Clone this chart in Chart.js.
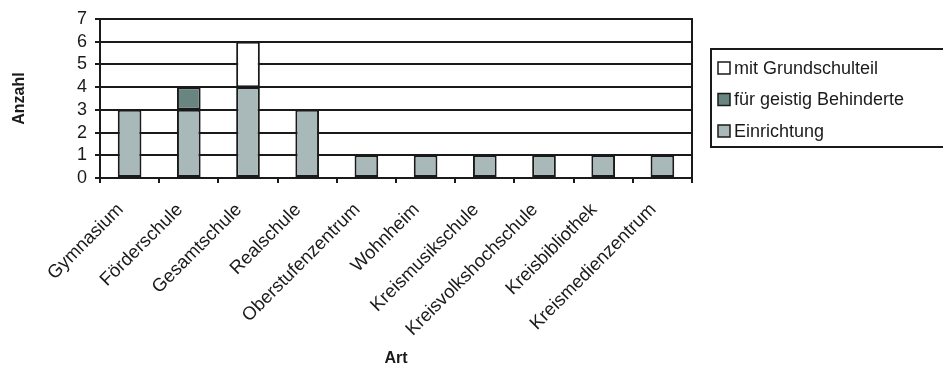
<!DOCTYPE html>
<html>
<head>
<meta charset="utf-8">
<script src="https://cdn.jsdelivr.net/npm/chart.js@4"></script>
<style>
  html, body { margin: 0; padding: 0; background: #fff; }
  #wrap { width: 943px; height: 372px; }
</style>
</head>
<body>
<div id="wrap"><canvas id="chart" width="943" height="372"></canvas></div>
<script>
const categories = ['Gymnasium', 'Förderschule', 'Gesamtschule', 'Realschule', 'Oberstufenzentrum',
    'Wohnheim', 'Kreismusikschule', 'Kreisvolkshochschule', 'Kreisbibliothek', 'Kreismedienzentrum'];
const einrichtung = [3, 3, 4, 3, 1, 1, 1, 1, 1, 1];
const geistigBehinderte = [0, 1, 0, 0, 0, 0, 0, 0, 0, 0];
const grundschulteil = [0, 0, 2, 0, 0, 0, 0, 0, 0, 0];
const yMax = 7;

const font = 'Arial, "Liberation Sans", sans-serif';
const ink = '#1a1a1a';

// frame around the plot area
const frame = {
    id: 'frame',
    afterDatasetsDraw(chart) {
        const a = chart.chartArea, ctx = chart.ctx;
        ctx.save();
        ctx.strokeStyle = ink;
        ctx.lineWidth = 2;
        ctx.strokeRect(a.left, a.top, a.right - a.left, a.bottom - a.top);
        ctx.restore();
    }
};

// legend box on the right, items listed top to bottom in reverse stacking order
const boxLegend = {
    id: 'boxLegend',
    afterDraw(chart) {
        const ctx = chart.ctx;
        const x = 711, y = 49, w = 250, h = 98;
        ctx.save();
        ctx.strokeStyle = ink;
        ctx.lineWidth = 2;
        ctx.strokeRect(x, y, w, h);
        ctx.font = '18px ' + font;
        ctx.textBaseline = 'middle';
        const ds = chart.data.datasets.slice().reverse();
        ds.forEach((d, i) => {
            const cy = y + 19 + i * 31.5;
            ctx.fillStyle = d.backgroundColor;
            ctx.fillRect(718, cy - 6, 12, 12);
            ctx.strokeStyle = ink;
            ctx.lineWidth = 1.5;
            ctx.strokeRect(718, cy - 6, 12, 12);
            ctx.fillStyle = ink;
            ctx.fillText(d.label, 734, cy + 1);
        });
        ctx.restore();
    }
};

new Chart(document.getElementById('chart'), {
    type: 'bar',
    data: {
        labels: categories,
        datasets: [
            { label: 'Einrichtung', data: einrichtung, backgroundColor: '#a9b8b8' },
            { label: 'für geistig Behinderte', data: geistigBehinderte, backgroundColor: '#68857f' },
            { label: 'mit Grundschulteil', data: grundschulteil, backgroundColor: '#ffffff' }
        ].map(d => Object.assign(d, {
            data: d.data.map(v => v || null),
            borderColor: ink,
            borderWidth: 2,
            borderSkipped: false,
            categoryPercentage: 1,
            barPercentage: 0.4
        }))
    },
    options: {
        responsive: false,
        animation: false,
        events: [],
        layout: { padding: { left: 0, top: 19, right: 251, bottom: 0 } },
        plugins: { legend: { display: false }, tooltip: { enabled: false } },
        scales: {
            x: {
                stacked: true,
                afterFit: s => { s.height = 194; },
                grid: { drawOnChartArea: false, color: ink, lineWidth: 2, tickLength: 5, tickColor: ink },
                border: { color: ink, width: 2 },
                ticks: { color: ink, font: { family: font, size: 18.5 }, minRotation: 45, maxRotation: 45, padding: 16, labelOffset: -9 },
                title: { display: true, text: 'Art', color: ink, font: { family: font, size: 16, weight: 'bold' }, padding: { top: 0, bottom: 4 } }
            },
            y: {
                stacked: true,
                min: 0,
                max: yMax,
                afterFit: s => { s.width = 100; },
                grid: { color: ink, lineWidth: 2, tickLength: 5, tickColor: ink },
                border: { color: ink, width: 2 },
                ticks: { color: ink, font: { family: font, size: 18 }, padding: 8, stepSize: 1, autoSkip: false },
                title: { display: true, text: 'Anzahl', color: ink, font: { family: font, size: 16, weight: 'bold' }, padding: { top: 10, bottom: 0 } }
            }
        }
    },
    plugins: [frame, boxLegend]
});
</script>
</body>
</html>
